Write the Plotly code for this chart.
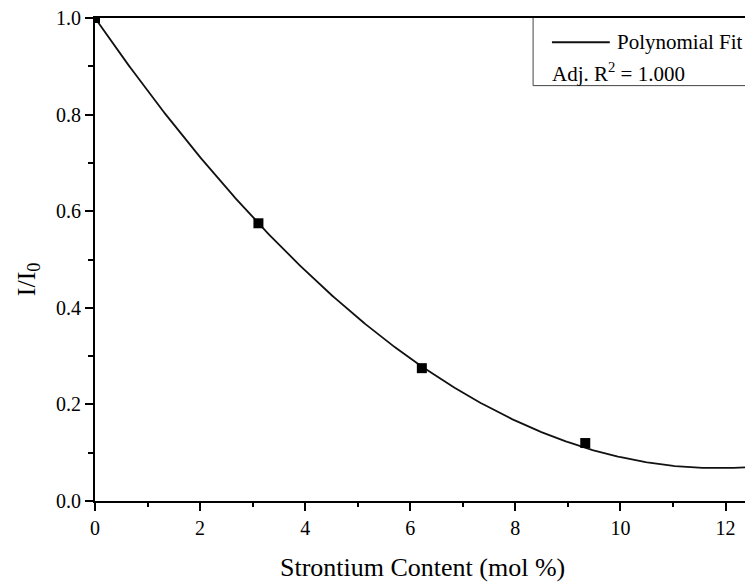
import numpy as np
import plotly.graph_objects as go

# Measured intensity ratio vs. strontium content
sr_content = [0.0, 3.11, 6.22, 9.33]
intensity_ratio = [1.0, 0.575, 0.275, 0.12]

# Second-order polynomial fit coefficients (highest power first)
fit_coeffs = [0.006637, -0.1573, 1.0]
fit_label = "Polynomial Fit"
fit_stat = "Adj. R<sup>2</sup> = 1.000"

x_title = "Strontium Content (mol %)"
y_title = "I/I<sub>0</sub>"
x_ticks = [0, 2, 4, 6, 8, 10, 12]
y_ticks = [0.0, 0.2, 0.4, 0.6, 0.8, 1.0]

X_MAX = 12.37
x_fit = np.linspace(0, X_MAX, 400)
y_fit = np.polyval(fit_coeffs, x_fit)

FONT = "Liberation Serif, Times New Roman, serif"

fig = go.Figure()
fig.add_trace(go.Scatter(
    x=x_fit, y=y_fit, mode="lines",
    line=dict(color="#111", width=1.8),
    showlegend=False, hoverinfo="skip",
))
fig.add_trace(go.Scatter(
    x=sr_content, y=intensity_ratio, mode="markers",
    marker=dict(symbol="square", size=10, color="black"),
    showlegend=False, cliponaxis=True,
))

# legend box: left and bottom edges (top edge is the frame)
box_x0, box_y0 = 0.674, 0.860
fig.add_shape(type="line", xref="paper", yref="paper",
              x0=box_x0, x1=box_x0, y0=box_y0, y1=1.0,
              line=dict(color="#444", width=1))
fig.add_shape(type="line", xref="paper", yref="paper",
              x0=box_x0, x1=1.0, y0=box_y0, y1=box_y0,
              line=dict(color="#444", width=1))
# legend line sample
fig.add_shape(type="line", xref="paper", yref="paper",
              x0=0.703, x1=0.792, y0=0.950, y1=0.950,
              line=dict(color="#111", width=2))
fig.add_annotation(xref="paper", yref="paper", x=0.800, y=0.950,
                   text=fit_label, showarrow=False, xanchor="left",
                   yanchor="middle", font=dict(family=FONT, size=21, color="black"))
fig.add_annotation(xref="paper", yref="paper", x=0.700, y=0.888,
                   text=fit_stat, showarrow=False, xanchor="left",
                   yanchor="middle", font=dict(family=FONT, size=21, color="black"))

# axis titles
fig.add_annotation(xref="paper", yref="paper", x=0.5035, y=-0.138,
                   text=x_title, showarrow=False, xanchor="center",
                   yanchor="middle", font=dict(family=FONT, size=26, color="black"))
fig.add_annotation(xref="paper", yref="paper", x=-0.104, y=0.46,
                   text=y_title, showarrow=False, textangle=-90,
                   xanchor="center", yanchor="middle",
                   font=dict(family=FONT, size=26, color="black"))

fig.update_layout(
    width=745, height=583,
    margin=dict(l=95, r=0, t=18, b=82),
    paper_bgcolor="white", plot_bgcolor="white",
    font=dict(family=FONT, size=20, color="black"),
    xaxis=dict(
        range=[0, X_MAX], tickvals=x_ticks,
        showline=True, linecolor="black", linewidth=2, mirror=True,
        ticks="outside", ticklen=8, tickwidth=2, tickcolor="black",
        showgrid=False, zeroline=False,
        minor=dict(dtick=1, ticks="outside", ticklen=4, tickwidth=2, tickcolor="black"),
        tickfont=dict(family=FONT, size=20),
    ),
    yaxis=dict(
        range=[0, 1.0], tickvals=y_ticks, tickformat=".1f",
        showline=True, linecolor="black", linewidth=2, mirror=False,
        ticks="outside", ticklen=8, tickwidth=2, tickcolor="black",
        showgrid=False, zeroline=False,
        minor=dict(dtick=0.1, ticks="outside", ticklen=5, tickwidth=2, tickcolor="black"),
        tickfont=dict(family=FONT, size=20),
    ),
)

fig.write_html("out.html")
